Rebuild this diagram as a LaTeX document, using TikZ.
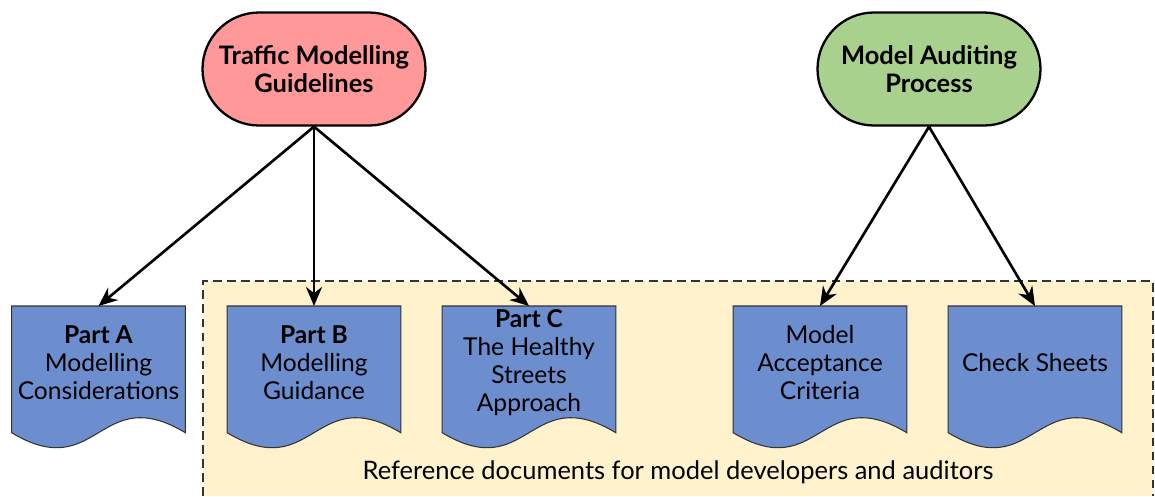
\documentclass[tikz,border=0pt]{standalone}
\usepackage{fontspec}
\setmainfont{Lato}
\usetikzlibrary{arrows.meta,backgrounds}
\definecolor{guidepink}{RGB}{255,153,153}
\definecolor{auditgreen}{RGB}{169,209,142}
\definecolor{docblue}{RGB}{108,142,206}
\definecolor{refyellow}{RGB}{255,242,204}
\begin{document}
\begin{tikzpicture}[>={Stealth[length=0.38cm,width=0.32cm]}]
      \tikzstyle{term}=[draw,line width=1.3pt,rounded corners=1.13cm,minimum width=4.46cm,minimum height=2.26cm,align=center,font=\fontsize{14.5}{16}\selectfont\bfseries]
      \tikzstyle{doc}=[anchor=north,minimum width=3.46cm,minimum height=2.24cm,inner sep=1pt,align=center,font=\fontsize{14}{16}\selectfont]
      \tikzstyle{docshape}=[fill=docblue,draw=black!80,line width=0.6pt]
      \useasboundingbox (0,0) rectangle (23.1,-9.92);
      \node[term,fill=guidepink] at (6.28,-1.38) (tmg) {Traffic Modelling\\Guidelines};
      \node[term,fill=auditgreen] at (18.58,-1.38) (map) {Model Auditing\\Process};
      \node[doc] at (1.97,-6.12) (pa) {\textbf{Part A}\\Modelling\\Considerations};
      \node[doc] at (6.28,-6.12) (pb) {\textbf{Part B}\\Modelling\\Guidance};
      \node[doc] at (10.58,-6.12) (pc) {\textbf{Part C}\\The Healthy\\Streets\\Approach};
      \node[doc] at (16.40,-6.12) (mac) {Model\\Acceptance\\Criteria};
      \node[doc] at (20.70,-6.12) (cs) {Check Sheets};
      \node[font=\fontsize{14.5}{16}\selectfont] at (13.56,-9.44) (ref) {Reference documents for model developers and auditors};
      \begin{scope}[on background layer]
        \fill[refyellow] (4.06,-5.62) rectangle (23.06,-9.92);
        \draw[dash pattern=on 5pt off 3pt,line width=0.6pt,draw=black!80] (4.06,-9.92) -- (4.06,-5.62) -- (23.06,-5.62) -- (23.06,-9.92);
        \foreach \d in {pa,pb,pc,mac,cs}{
          \draw[docshape] (\d.north west) -- (\d.north east) -- ([yshift=-0.28cm]\d.south east)
            .. controls ([xshift=-1.73cm,yshift=0.76cm]\d.south east) and ([xshift=1.73cm,yshift=-1.32cm]\d.south west) .. ([yshift=-0.28cm]\d.south west) -- cycle;
        }
      \end{scope}
      \foreach \d in {pa,pb,pc}{\draw[->,line width=1.5pt] (tmg.south) -- (\d.north);}
      \foreach \d in {mac,cs}{\draw[->,line width=1.5pt] (map.south) -- (\d.north);}
\end{tikzpicture}
\end{document}
